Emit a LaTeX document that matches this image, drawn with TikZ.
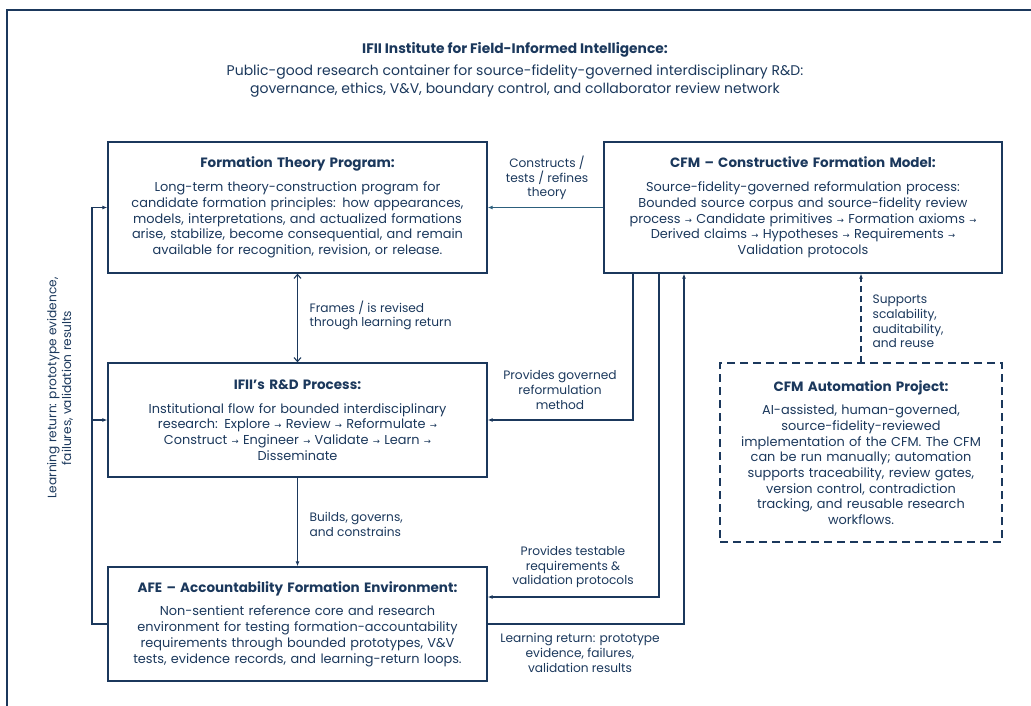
\documentclass[tikz,border=0pt]{standalone}
\usepackage{fontspec}
\setmainfont{Poppins}
\newfontfamily\arrowfont{DejaVu Sans}
\newcommand\ra{{\arrowfont\fontsize{8.5}{8}\selectfont →}}
\newcommand\btitle[1]{{\bfseries\fontsize{13.5}{16}\selectfont #1}}
\usetikzlibrary{arrows.meta}
\definecolor{navy}{HTML}{1B385C}
\definecolor{tealine}{HTML}{2C5F7C}
\begin{document}
\begin{tikzpicture}[x=1pt,y=-1pt,
    navy, line width=1.3pt,
    box/.style = {draw, rectangle, align=center,
        minimum width=379pt, minimum height=114pt,
        text width=374pt, inner sep=0pt,
        font=\fontsize{12.9}{15.7}\selectfont},
    note/.style = {align=center, inner sep=0pt,
        font=\fontsize{12.2}{14.7}\selectfont},
    link/.style = {line width=1.1pt, -{Latex[length=5pt,width=4pt]}}]

\useasboundingbox (0,0) rectangle (1031,706);

% Outer frame
\draw[line width=2pt] (1045,10) -- (7,10) -- (7,720);

% Header
\node[font=\bfseries\fontsize{13.8}{16}\selectfont] (title) at (515,50)
    {IFII Institute for Field-Informed Intelligence:};
\node[align=center, font=\fontsize{14}{18}\selectfont] (sub) at (515,81)
    {Public-good research container for source-fidelity-governed interdisciplinary R\&D:\\
     governance, ethics, V\&V, boundary control, and collaborator review network};

% Formation Theory Program
\node[box, minimum height=131pt] (ftp) at (297.5,207.5)
    {\btitle{Formation Theory Program:}\\[8pt]
     Long-term theory-construction program for\\
     candidate formation principles: how appearances,\\
     models, interpretations, and actualized formations\\
     arise, stabilize, become consequential, and remain\\
     available for recognition, revision, or release.};

% CFM
\node[box, minimum width=398pt, minimum height=131pt, text width=394pt] (cfm) at (803,207.5)
    {\btitle{CFM – Constructive Formation Model:}\\[8pt]
     Source-fidelity-governed reformulation process:\\
     Bounded source corpus and source-fidelity review\\
     process \ra{} Candidate primitives \ra{} Formation axioms \ra\\
     Derived claims \ra{} Hypotheses \ra{} Requirements \ra\\
     Validation protocols};

% R&D process
\node[box] (rd) at (297.5,420)
    {\btitle{IFII’s R\&D Process:}\\[8pt]
     Institutional flow for bounded interdisciplinary\\
     research: Explore \ra{} Review \ra{} Reformulate \ra\\
     Construct \ra{} Engineer \ra{} Validate \ra{} Learn \ra\\
     Disseminate};

% AFE
\node[box] (afe) at (297.5,624)
    {\btitle{AFE – Accountability Formation Environment:}\\[8pt]
     Non-sentient reference core and research\\
     environment for testing formation-accountability\\
     requirements through bounded prototypes, V\&V\\
     tests, evidence records, and learning-return loops.};

% CFM Automation Project
\node[box, dash pattern=on 8pt off 5pt, minimum width=282pt, minimum height=179pt,
      text width=278pt] (auto) at (861,452.5)
    {\btitle{CFM Automation Project:}\\[8pt]
     AI-assisted, human-governed,\\
     source-fidelity-reviewed\\
     implementation of the CFM. The CFM\\
     can be run manually; automation\\
     supports traceability, review gates,\\
     version control, contradiction\\
     tracking, and reusable research\\
     workflows.};

% Connectors
\draw[link, tealine] (cfm.west) -- (ftp.east);
\node[note] (l1) at (547,178) {Constructs /\\ tests / refines\\ theory};

\draw[line width=1.1pt, {Straight Barb[length=4pt,width=7pt]}-{Straight Barb[length=4pt,width=7pt]}]
    (ftp.south) -- (rd.north);
\node[note, anchor=west, align=left] (l2) at (309,315.5)
    {Frames / is revised\\ through learning return};

\draw[link] (rd.south) -- (afe.north);
\node[note, anchor=west, align=left] (l3) at (309,524.5)
    {Builds, governs,\\ and constrains};

\draw[link] ([xshift=-170pt]cfm.south) |- (rd.east);
\node[note] (l4) at (560,390) {Provides governed\\ reformulation\\ method};

\draw[link] ([xshift=-144pt]cfm.south) |- ([yshift=27pt]afe.east);
\node[note] (l5) at (573,567) {Provides testable\\ requirements \&\\ validation protocols};

\draw[link] (afe.east) -| ([xshift=-119pt]cfm.south);
\node[note] (l6) at (580,653) {Learning return: prototype\\ evidence, failures,\\ validation results};

\draw[link, dash pattern=on 6pt off 4pt] (auto.north) -- (auto.north |- cfm.south);
\node[note, anchor=west, align=left] (l7) at (872,321.5)
    {Supports\\ scalability,\\ auditability,\\ and reuse};

% Learning return loop
\coordinate (loop) at (92,624);
\draw[link] (afe.west) -- (loop) |- (ftp.west);
\draw[link] (loop |- rd.west) -- (rd.west);
\node[note, rotate=90] (l8) at (60,388)
    {Learning return: prototype evidence,\\ failures, validation results};

\end{tikzpicture}
\end{document}
